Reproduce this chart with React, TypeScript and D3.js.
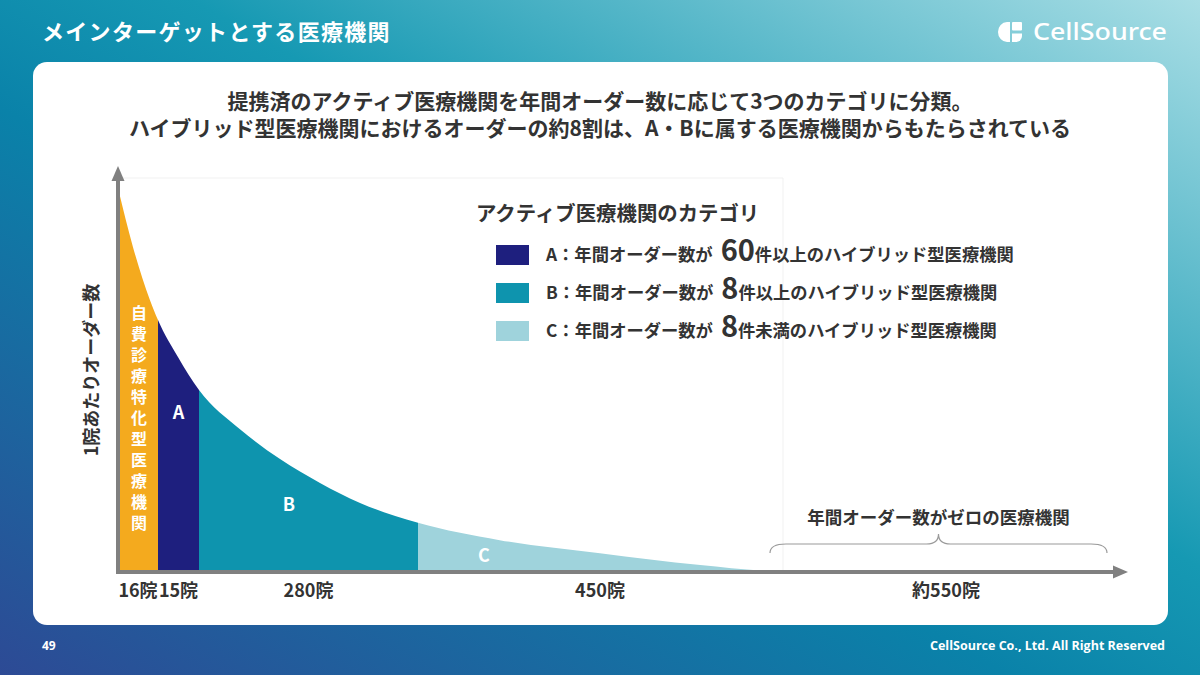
import React from "react";
import * as d3 from "d3";

// ---- data ----
const segmentLabels = ["16院", "15院", "280院", "450院", "約550院"];
const segmentCounts = [16, 15, 280, 450, 550];
const segmentNames = ["自費診療特化型医療機関", "A", "B", "C", ""];
const segmentColors = ["#F4AA1E", "#1E1F7E", "#0E94AE", "#9FD3DC", "none"];

// curve: cumulative hospital rank vs relative orders per hospital
const curveRank = [0, 6, 12.8, 16, 23.3, 31, 83.4, 134.6, 185.7, 236.9, 311, 412, 536, 660, 737, 761];
const curveValue = [100, 84.6, 70.8, 65.6, 56, 47.4, 37.2, 29.4, 23.2, 18.0, 12.8, 8.3, 4.9, 1.8, 0.3, 0];

const legendKeys = ["A", "B", "C"];
const legendBig = ["60", "8", "8"];
const legendTail = ["件以上のハイブリッド型医療機関", "件以上のハイブリッド型医療機関", "件未満のハイブリッド型医療機関"];
const legendColors = ["#1E1F7E", "#0E94AE", "#9FD3DC"];

const titleText = "メインターゲットとする医療機関";
const subtitleLines = [
  "提携済のアクティブ医療機関を年間オーダー数に応じて3つのカテゴリに分類。",
  "ハイブリッド型医療機関におけるオーダーの約8割は、A・Bに属する医療機関からもたらされている",
];
const legendTitle = "アクティブ医療機関のカテゴリ";
const zeroLabel = "年間オーダー数がゼロの医療機関";
const yTitle = "1院あたりオーダー数";

const JP = "'Noto Sans CJK JP', 'Noto Sans', sans-serif";

export default function App() {
  const W = 1200, H = 675;
  const bounds = [0];
  segmentCounts.forEach((c) => bounds.push(bounds[bounds.length - 1] + c));
  const x = d3.scaleLinear().domain(bounds).range([118, 158, 199, 418, 782, 1110]);
  const y = d3.scaleLinear().domain([0, 100]).range([572, 188]);

  const pts: [number, number][] = curveRank.map((r, i) => [x(r), y(curveValue[i])]);
  const areaGen = d3
    .area<[number, number]>()
    .x((d) => d[0])
    .y0(y(0))
    .y1((d) => d[1])
    .curve(d3.curveMonotoneX);
  const areaPath = areaGen(pts) || "";

  const text = "#333333";
  const axisColor = "#808080";
  const y0 = y(0);

  const bx0 = x(bounds[4]) - 12;
  const bx1 = x(bounds[5]) - 3;
  const bm = (bx0 + bx1) / 2;
  const braceTop = 534, braceArm = 544, braceEnd = 553;
  const bracePath = `M${bx0},${braceEnd} Q${bx0},${braceArm} ${bx0 + 16},${braceArm} L${bm - 12},${braceArm} Q${bm},${braceArm} ${bm},${braceTop} Q${bm},${braceArm} ${bm + 12},${braceArm} L${bx1 - 16},${braceArm} Q${bx1},${braceArm} ${bx1},${braceEnd}`;

  return (
    <svg width={W} height={H} style={{ display: "block", position: "absolute", left: 0, top: 0 }}>
      <defs>
        <linearGradient id="bg" x1="0" y1="1" x2="1" y2="0">
          <stop offset="0" stopColor="#2D4A95" />
          <stop offset="0.42" stopColor="#0A82A9" />
          <stop offset="0.58" stopColor="#1699B3" />
          <stop offset="1" stopColor="#A9DEE5" />
        </linearGradient>
        {segmentCounts.map((c, i) => (
          <clipPath id={`seg${i}`} key={i}>
            <rect x={x(bounds[i])} y={0} width={x(bounds[i + 1]) - x(bounds[i])} height={H} />
          </clipPath>
        ))}
      </defs>
      <rect x={0} y={0} width={W} height={H} fill="url(#bg)" />
      <rect x={33} y={62} width={1135} height={563} rx={14} fill="#ffffff" />

      {/* header */}
      <text x={42} y={30} fill="#fff" fontFamily={JP} fontWeight={700} fontSize={22} letterSpacing={1.3} dominantBaseline="central">
        {titleText}
      </text>
      <g fill="#fff">
        <path d="M1010,22 L1007,22 A9,10 0 0 0 998,32 A9,10 0 0 0 1007,42 L1010,42 Z" />
        <rect x={1012} y={22} width={10} height={8.5} rx={1} />
        <path d="M1012,33.5 L1022,33.5 L1022,36 A6,6 0 0 1 1016,42 L1012,42 Z" />
        <text x={1033} y={40} fontFamily="'Noto Sans', sans-serif" fontWeight={500} fontSize={23} textLength={134} lengthAdjust="spacingAndGlyphs">
          CellSource
        </text>
      </g>

      {/* subtitle */}
      <text textAnchor="middle" fill={text} fontFamily={JP} fontWeight={700} fontSize={21}>
        {subtitleLines.map((s, i) => (
          <tspan key={i} x={600} y={108.5 + i * 27}>
            {s}
          </tspan>
        ))}
      </text>

      {/* faint frame */}
      <path d={`M120,178 L783,178 L783,${y0 - 2}`} fill="none" stroke="#f1f1f1" strokeWidth={1} />

      {/* segments */}
      {segmentCounts.map((c, i) =>
        segmentColors[i] === "none" ? null : (
          <path key={i} d={areaPath} fill={segmentColors[i]} clipPath={`url(#seg${i})`} />
        )
      )}

      {/* vertical label */}
      <text
        x={(x(bounds[0]) + x(bounds[1])) / 2 + 1}
        y={305}
        style={{ writingMode: "vertical-rl" }}
        fill="#fff"
        fontFamily={JP}
        fontWeight={700}
        fontSize={16}
        letterSpacing={5}
      >
        {segmentNames[0]}
      </text>
      <text x={(x(bounds[1]) + x(bounds[2])) / 2} y={411} textAnchor="middle" dominantBaseline="central" fill="#fff" fontFamily={JP} fontWeight={700} fontSize={18}>{segmentNames[1]}</text>
      <text x={289} y={503} textAnchor="middle" dominantBaseline="central" fill="#fff" fontFamily={JP} fontWeight={700} fontSize={18}>{segmentNames[2]}</text>
      <text x={484} y={554} textAnchor="middle" dominantBaseline="central" fill="#fff" fontFamily={JP} fontWeight={700} fontSize={18}>{segmentNames[3]}</text>

      {/* axes */}
      <line x1={118} y1={y0} x2={1116} y2={y0} stroke={axisColor} strokeWidth={4} />
      <path d={`M1128,${y0} L1113,${y0 - 6.5} L1113,${y0 + 6.5} Z`} fill={axisColor} />
      <line x1={118} y1={y0 + 2} x2={118} y2={180} stroke={axisColor} strokeWidth={4} />
      <path d={`M118,166 L111.5,181 L124.5,181 Z`} fill={axisColor} />

      {/* x labels */}
      {segmentLabels.map((l, i) => (
        <text key={i} x={(x(bounds[i]) + x(bounds[i + 1])) / 2} y={589} textAnchor="middle" dominantBaseline="central" fill={text} fontFamily={JP} fontWeight={700} fontSize={18}>
          {l}
        </text>
      ))}

      {/* y title */}
      <text transform="translate(90,370) rotate(-90)" textAnchor="middle" dominantBaseline="central" fill={text} fontFamily={JP} fontWeight={700} fontSize={18}>
        {yTitle}
      </text>

      {/* brace */}
      <path d={bracePath} fill="none" stroke="#9a9a9a" strokeWidth={1.2} />
      <text x={bm} y={516} textAnchor="middle" dominantBaseline="central" fill={text} fontFamily={JP} fontWeight={700} fontSize={17.5}>
        {zeroLabel}
      </text>

      {/* legend */}
      <text x={476} y={212} dominantBaseline="central" fill={text} fontFamily={JP} fontWeight={700} fontSize={20.4}>
        {legendTitle}
      </text>
      {legendKeys.map((k, i) => {
        const cy = 255 + i * 38;
        return (
          <g key={k}>
            <rect x={496} y={cy - 10} width={33} height={20} fill={legendColors[i]} />
            <text x={546} y={cy + 6} fill={text} fontFamily={JP} fontWeight={700} fontSize={17.3}>
              <tspan>{k}：年間オーダー数が</tspan>
              <tspan dx={8} fontSize={29}>{legendBig[i]}</tspan>
              <tspan>{legendTail[i]}</tspan>
            </text>
          </g>
        );
      })}

      {/* footer */}
      <text x={42} y={645} dominantBaseline="central" fill="#fff" fontFamily="'Open Sans', sans-serif" fontWeight={700} fontSize={12}>49</text>
      <text x={1165} y={645} textAnchor="end" dominantBaseline="central" fill="#fff" fontFamily="'Open Sans', sans-serif" fontWeight={700} fontSize={12} textLength={235} lengthAdjust="spacingAndGlyphs">
        CellSource Co., Ltd. All Right Reserved
      </text>
    </svg>
  );
}
